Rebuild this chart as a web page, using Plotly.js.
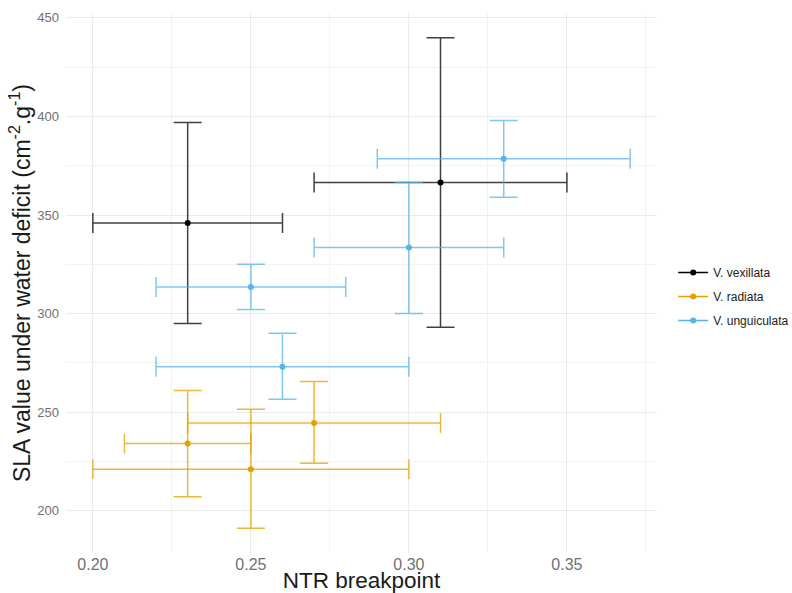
<!DOCTYPE html>
<html>
<head>
<meta charset="utf-8">
<script src="https://cdn.plot.ly/plotly-3.0.1.min.js"></script>
<style>html,body{margin:0;padding:0;background:#fff;}#chart{width:792px;height:593px;}</style>
</head>
<body>
<div id="chart"></div>
<script>
// Species names
const species = ["V. vexillata", "V. radiata", "V. unguiculata"];
const colors = ["#000000", "#E69F00", "#56B4E9"];
const errColors = ["rgba(0,0,0,0.75)", "rgba(230,159,0,0.75)", "rgba(86,180,233,0.75)"];

// V. vexillata
const vexX    = [0.23, 0.31];
const vexXlo  = [0.20, 0.27];
const vexXhi  = [0.26, 0.35];
const vexY    = [346, 366.5];
const vexYlo  = [295, 293];
const vexYhi  = [397, 440];

// V. radiata
const radX    = [0.23, 0.25, 0.27];
const radXlo  = [0.21, 0.20, 0.23];
const radXhi  = [0.25, 0.30, 0.31];
const radY    = [234, 221, 244.5];
const radYlo  = [207, 191, 224];
const radYhi  = [261, 251.5, 265.5];

// V. unguiculata
const ungX    = [0.25, 0.26, 0.30, 0.33];
const ungXlo  = [0.22, 0.22, 0.27, 0.29];
const ungXhi  = [0.28, 0.30, 0.33, 0.37];
const ungY    = [313.5, 273, 333.5, 378.5];
const ungYlo  = [302, 256.5, 300, 359];
const ungYhi  = [325, 290, 366.5, 398];

const xTicks = [0.20, 0.25, 0.30, 0.35];
const xTickLabels = ["0.20", "0.25", "0.30", "0.35"];
const yTicks = [200, 250, 300, 350, 400, 450];
const yTickLabels = ["200", "250", "300", "350", "400", "450"];

const groups = [
  [vexX, vexXlo, vexXhi, vexY, vexYlo, vexYhi],
  [radX, radXlo, radXhi, radY, radYlo, radYhi],
  [ungX, ungXlo, ungXhi, ungY, ungYlo, ungYhi]
];

const traces = [];
groups.forEach((g, i) => {
  const [x, xlo, xhi, y, ylo, yhi] = g;
  traces.push({
    type: "scatter", mode: "markers", x: x, y: y,
    name: species[i], showlegend: false, legendgroup: species[i],
    marker: {color: colors[i], size: 6},
    error_x: {type: "data", symmetric: false,
      array: x.map((v, k) => xhi[k] - v), arrayminus: x.map((v, k) => v - xlo[k]),
      color: errColors[i], thickness: 1.5, width: 10},
    error_y: {type: "data", symmetric: false,
      array: y.map((v, k) => yhi[k] - v), arrayminus: y.map((v, k) => v - ylo[k]),
      color: errColors[i], thickness: 1.5, width: 14},
    hoverinfo: "x+y+name"
  });
});
species.forEach((s, i) => {
  traces.push({
    type: "scatter", mode: "lines+markers", x: [null], y: [null],
    name: s, legendgroup: s, showlegend: true,
    marker: {color: colors[i], size: 6},
    line: {color: colors[i], width: 1.5}
  });
});

const font = "Liberation Sans, Arial, Helvetica, sans-serif";
const layout = {
  width: 792, height: 593,
  margin: {l: 66, r: 135, t: 13, b: 40},
  paper_bgcolor: "#ffffff", plot_bgcolor: "#ffffff",
  font: {family: font, color: "#1a1a1a"},
  showlegend: true,
  legend: {xref: "container", yref: "container", x: 0.85, xanchor: "left", y: 0.5, yanchor: "middle",
    font: {family: font, size: 12, color: "#1a1a1a"},
    tracegroupgap: 5, itemwidth: 30, bgcolor: "rgba(0,0,0,0)"},
  xaxis: {
    range: [0.1915, 0.3785], tickmode: "array", tickvals: xTicks, ticktext: xTickLabels,
    showgrid: true, gridcolor: "#ebebeb", gridwidth: 1, zeroline: false, showline: false,
    ticks: "", ticklabelstandoff: 0,
    tickfont: {family: font, size: 16, color: "#707070"},
    minor: {dtick: 0.025, tick0: 0.2, showgrid: true, gridcolor: "#f3f3f3", gridwidth: 1},
    title: {text: "NTR breakpoint", font: {family: font, size: 22.5, color: "#1a1a1a"}, standoff: 11},
    automargin: false
  },
  yaxis: {
    range: [178.5, 452.5], tickmode: "array", tickvals: yTicks, ticktext: yTickLabels,
    showgrid: true, gridcolor: "#ebebeb", gridwidth: 1, zeroline: false, showline: false,
    ticks: "", ticklabelstandoff: 6,
    tickfont: {family: font, size: 13, color: "#707070"},
    minor: {dtick: 25, tick0: 200, showgrid: true, gridcolor: "#f3f3f3", gridwidth: 1},
    title: {text: "SLA value under water deficit (cm<sup>-2</sup>.g<sup>-1</sup>)",
      font: {family: font, size: 23, color: "#1a1a1a"}, standoff: 0},
    automargin: false
  }
};

Plotly.newPlot("chart", traces, layout, {displayModeBar: false, staticPlot: true});
</script>
</body>
</html>
